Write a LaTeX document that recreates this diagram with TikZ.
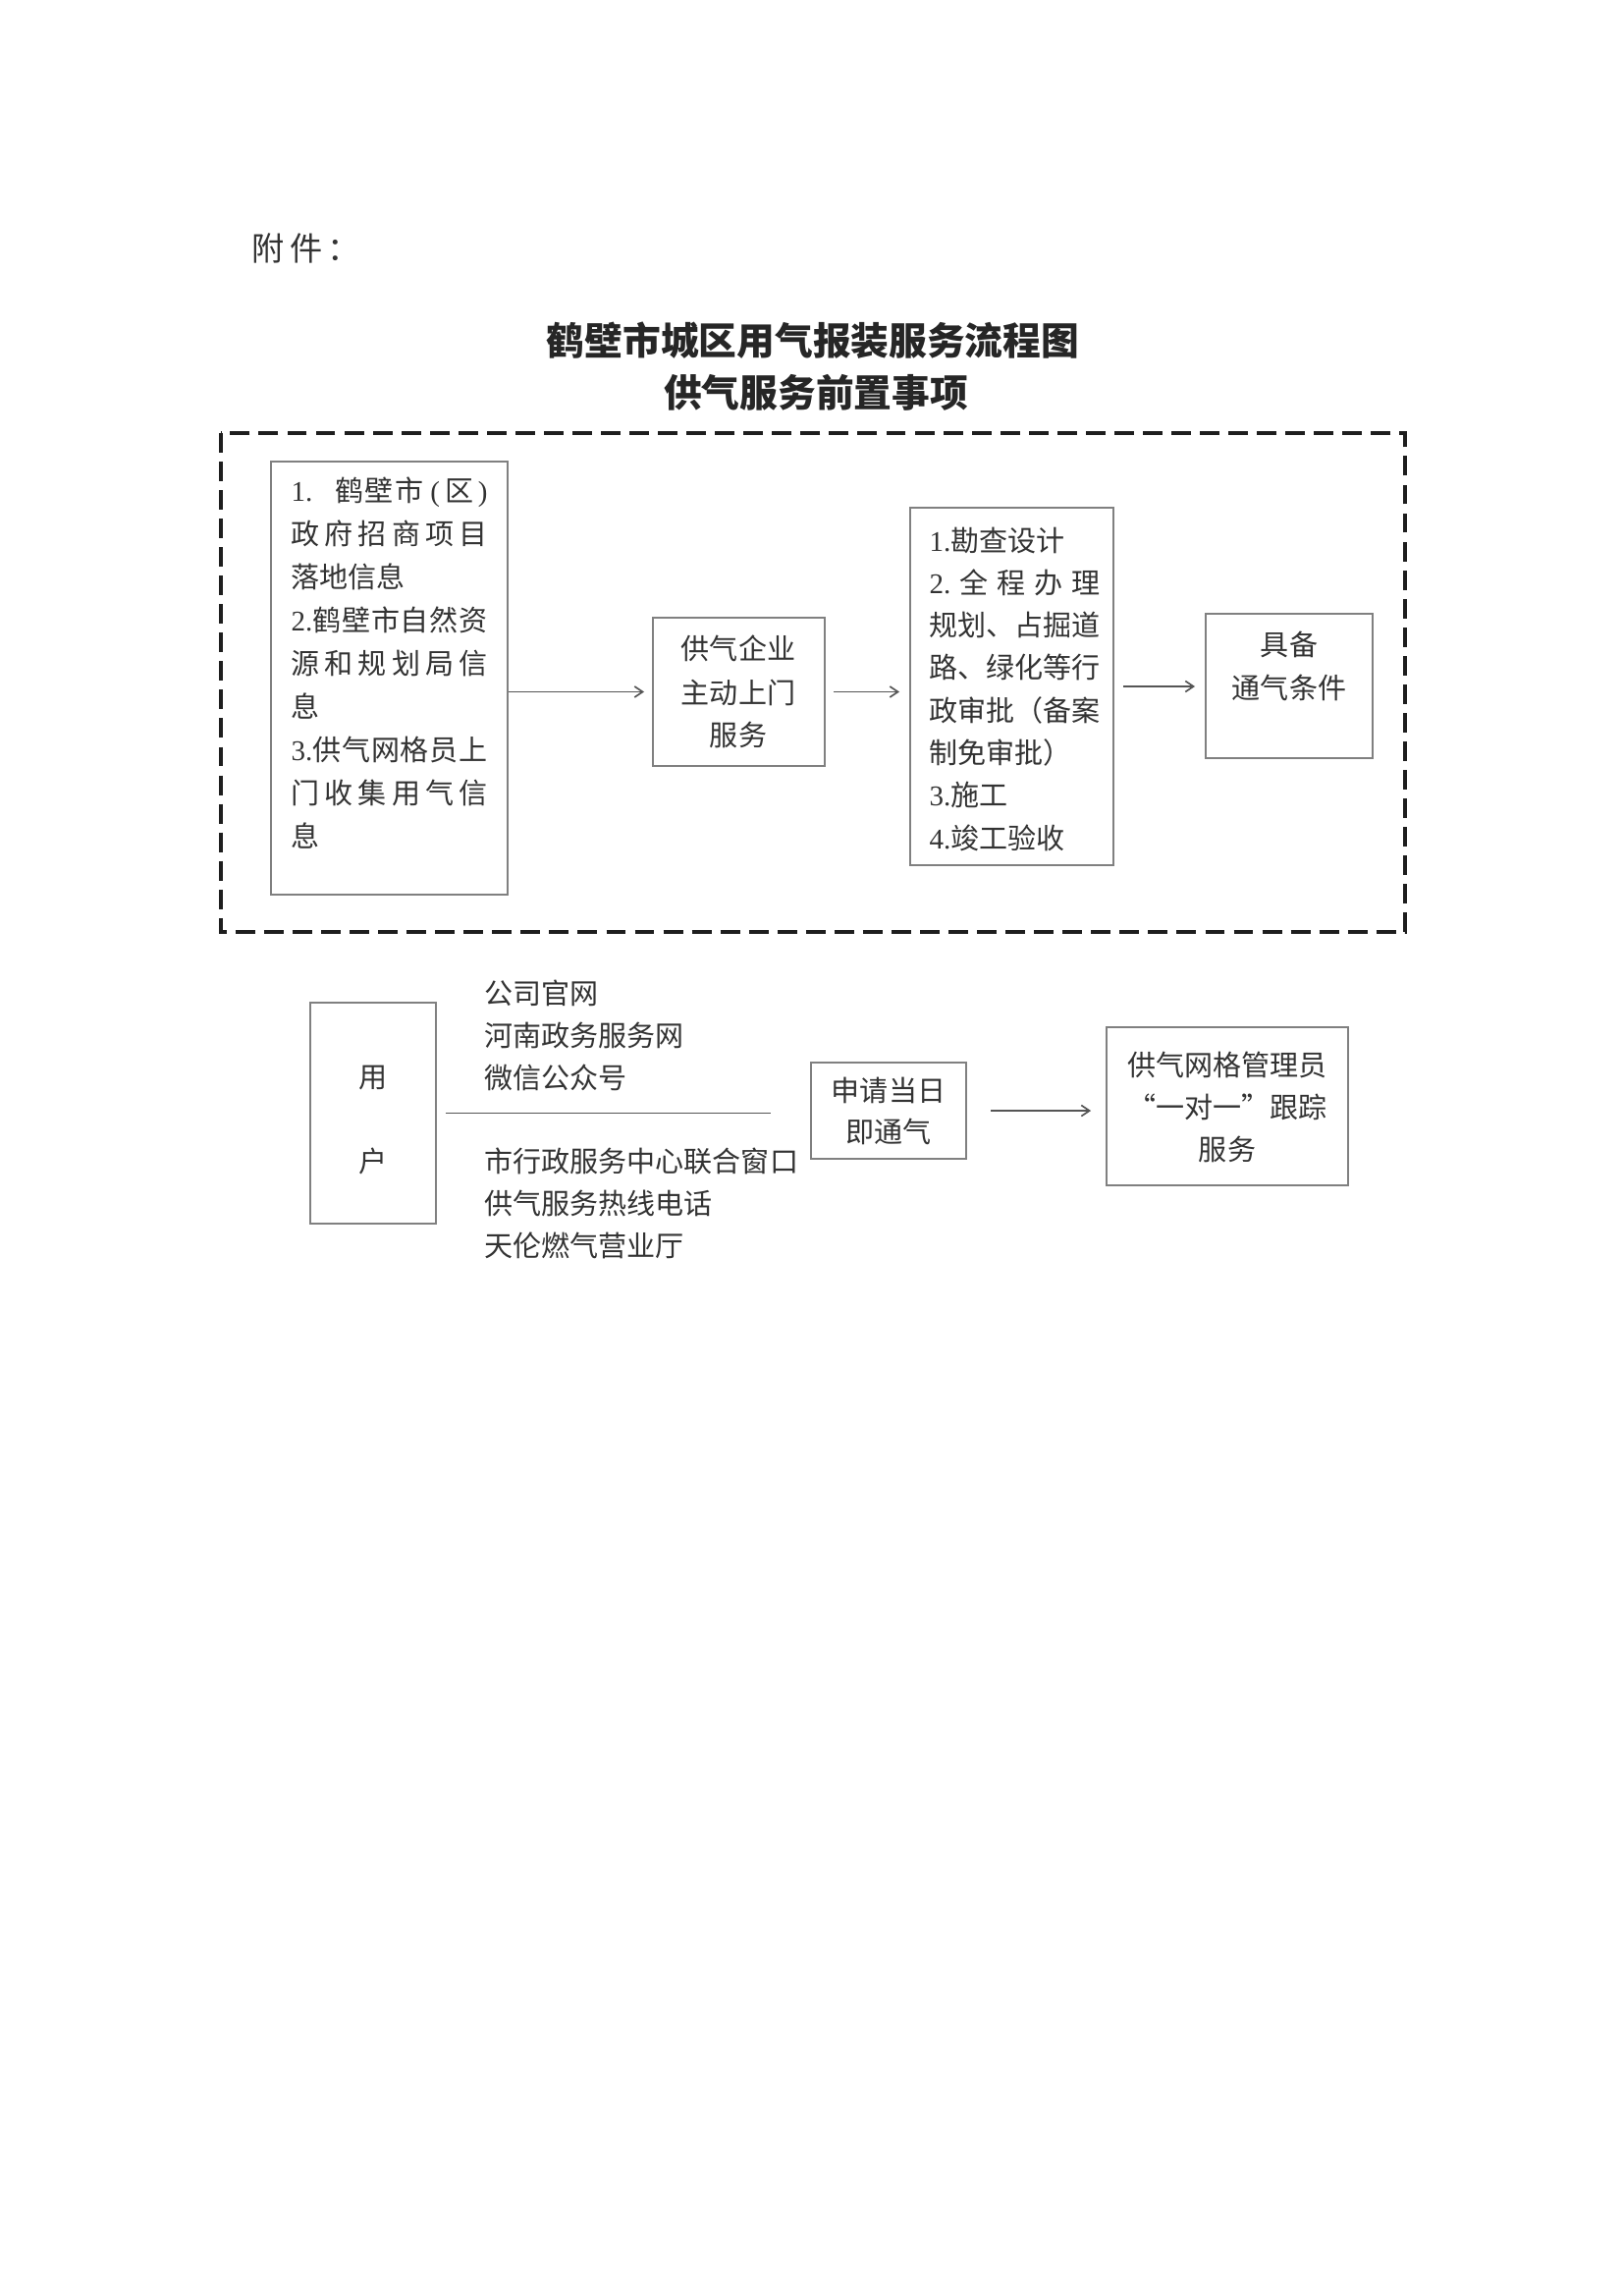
\documentclass[tikz,border=0pt]{standalone}
\usepackage{fontspec}
\setmainfont{Liberation Serif}
\newfontfamily\cjk{Noto Sans CJK SC}
\usetikzlibrary{arrows.meta,fit}
\definecolor{ink}{HTML}{333333}
\definecolor{frame}{HTML}{808080}
\definecolor{dashc}{HTML}{1E1E1E}
\definecolor{arrc}{HTML}{555555}
\newcommand\lat[1]{{\rmfamily #1}}
\newcommand\gap{\hfill}
\tikzset{
  box/.style={draw=frame, line width=0.7pt, rectangle, inner sep=0pt},
  txt/.style={font=\cjk\fontsize{10.5}{12}\selectfont, text=ink, inner sep=0pt},
  ttl/.style={font=\cjk\bfseries\fontsize{14}{16}\selectfont, text=black!85, inner sep=0pt},
  arr/.style={draw=arrc, line width=0.6pt, -{Straight Barb[length=3pt,width=4pt]}},
  conn/.style={draw=arrc, line width=0.6pt},
  frameline/.style={draw=dashc, line width=1.45pt, dash pattern=on 7.2pt off 3.3pt},
}
\begin{document}
\begin{tikzpicture}[x=0.12704mm, y=-0.12704mm]
\useasboundingbox (0,0) rectangle (1653,2338);
\fill[white] (0,0) rectangle (1653,2338);

% heading
\node[txt, anchor=base west, font=\cjk\fontsize{12}{14}\selectfont] (fj) at (256,265) {附\hspace{2.2pt}件\hspace{1.5pt}：};
\node[ttl, anchor=base] (t1) at (828,361) {鹤壁市城区用气报装服务流程图};
\node[ttl, anchor=base] (t2) at (831,414) {供气服务前置事项};

% dashed frame
\draw[frameline] (225,441) rectangle (1431,949);

% boxes of the upper part
\node[box, fit={(276,470) (517,911)}] (b1) {};
\node[box, fit={(665,629) (840,780)}] (b2) {};
\node[box, fit={(927,517) (1134,881)}] (b3) {};
\node[box, fit={(1228,625) (1398,772)}] (b4) {};

% box 1 text
\node[txt, anchor=base west] (b1l1) at (296,510) {\makebox[72.3pt][l]{\lat{1.}\hfill 鹤\hspace{0.6pt}壁\hspace{0.6pt}市\hspace{2.5pt}\lat{(}\hspace{2pt}区\hspace{1.5pt}\lat{)}}};
\node[txt, anchor=base west] (b1l2) at (296,554) {\makebox[72.3pt][l]{政\gap 府\gap 招\gap 商\gap 项\gap 目}};
\node[txt, anchor=base west] (b1l3) at (296,598) {落地信息};
\node[txt, anchor=base west] (b1l4) at (296,642) {\makebox[72.3pt][l]{\lat{2.}鹤\gap 壁\gap 市\gap 自\gap 然\gap 资}};
\node[txt, anchor=base west] (b1l5) at (296,686) {\makebox[72.3pt][l]{源\gap 和\gap 规\gap 划\gap 局\gap 信}};
\node[txt, anchor=base west] (b1l6) at (296,730) {息};
\node[txt, anchor=base west] (b1l7) at (296,774) {\makebox[72.3pt][l]{\lat{3.}供\gap 气\gap 网\gap 格\gap 员\gap 上}};
\node[txt, anchor=base west] (b1l8) at (296,818) {\makebox[72.3pt][l]{门\gap 收\gap 集\gap 用\gap 气\gap 信}};
\node[txt, anchor=base west] (b1l9) at (296,862) {息};

% box 2 text
\node[txt, anchor=base] (b2l1) at (752,671) {供气企业};
\node[txt, anchor=base] (b2l2) at (752,716) {主动上门};
\node[txt, anchor=base] (b2l3) at (752,759) {服务};

% box 3 text
\node[txt, anchor=base west] (b3l1) at (946,561) {\lat{1.}勘查设计};
\node[txt, anchor=base west] (b3l2) at (946,604.3) {\makebox[62.9pt][l]{\lat{2.}\gap 全\gap 程\gap 办\gap 理}};
\node[txt, anchor=base west] (b3l3) at (946,647.6) {规划、占掘道};
\node[txt, anchor=base west] (b3l4) at (946,690.9) {路、绿化等行};
\node[txt, anchor=base west] (b3l5) at (946,734.2) {政审批（备案};
\node[txt, anchor=base west] (b3l6) at (946,777.5) {制免审批）};
\node[txt, anchor=base west] (b3l7) at (946,820.8) {\lat{3.}施工};
\node[txt, anchor=base west] (b3l8) at (946,864.1) {\lat{4.}竣工验收};

% box 4 text
\node[txt, anchor=base] (b4l1) at (1313,667) {具备};
\node[txt, anchor=base] (b4l2) at (1313,711) {通气条件};

% upper arrows
\draw[arr, shorten >=2.9pt] (b1.east |- b2.west) -- (b2.west);
\draw[arr, shorten <=2.9pt, shorten >=3.6pt] (b2.east) -- (b2.east -| b3.west);
\draw[arr, shorten <=3.2pt, shorten >=3.6pt] (b3.east) -- (b3.east -| b4.west);

% lower part
\node[box, fit={(316,1021) (444,1246)}] (u) {};
\node[txt, anchor=base] (ul1) at (380,1107) {用};
\node[txt, anchor=base] (ul2) at (380,1193) {户};

\node[txt, anchor=base west] (c1) at (493,1022) {公司官网};
\node[txt, anchor=base west] (c2) at (493,1065) {河南政务服务网};
\node[txt, anchor=base west] (c3) at (493,1108) {微信公众号};
\node[txt, anchor=base west] (c4) at (493,1193) {市行政服务中心联合窗口};
\node[txt, anchor=base west] (c5) at (493,1236) {供气服务热线电话};
\node[txt, anchor=base west] (c6) at (493,1279) {天伦燃气营业厅};

\coordinate (lineend) at (785,1136);
\draw[conn, shorten <=3.2pt] (u.east) -- (u.east -| lineend);

\node[box, fit={(826,1082) (984,1180)}] (ap) {};
\node[txt, anchor=base] (apl1) at (905,1121) {申请当日};
\node[txt, anchor=base] (apl2) at (905,1163) {即通气};

\node[box, fit={(1127,1046) (1373,1207)}] (gm) {};
\node[txt, anchor=base] (gml1) at (1250,1095) {供气网格管理员};
\node[txt, anchor=base] (gml2) at (1250,1138) {“一对一”跟踪};
\node[txt, anchor=base] (gml3) at (1250,1181) {服务};

\draw[arr, shorten <=8.7pt, shorten >=5.4pt] (ap.east) -- (ap.east -| gm.west);
\end{tikzpicture}
\end{document}
